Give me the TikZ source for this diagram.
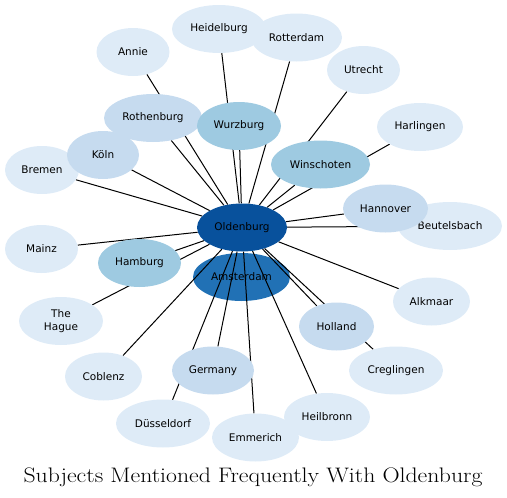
\documentclass[tikz,border=0pt]{standalone}
\usepackage{fontspec}
\newfontfamily\labfont{DejaVu Sans}
\usetikzlibrary{shapes.geometric}
\pgfdeclarelayer{amst}
\pgfdeclarelayer{edges}
\pgfsetlayers{amst,edges,main}
\definecolor{cA}{HTML}{DEEBF7}
\definecolor{cB}{HTML}{C6DBEF}
\definecolor{cC}{HTML}{9ECAE1}
\definecolor{cD}{HTML}{2171B5}
\definecolor{cE}{HTML}{08519C}
\begin{document}
\begin{tikzpicture}[x=1pt,y=-1pt,
  ent/.style={ellipse,inner sep=0pt,minimum height=48pt,draw=none,
    font=\labfont\fontsize{10.5}{12.5}\selectfont,align=center},
  lA/.style={ent,fill=cA},
  lB/.style={ent,fill=cB},
  lC/.style={ent,fill=cC},
  lD/.style={ent,fill=cD},
  lE/.style={ent,fill=cE},
  link/.style={draw=black,line width=1pt}]
\useasboundingbox (0,0) rectangle (507,498);
\begin{pgfonlayer}{amst}
\node[lD,minimum width=97pt] (ams) at (241.5,277) {Amsterdam};
\end{pgfonlayer}
\node[lA,minimum width=73pt] (annie) at (133,52) {Annie};
\node[lA,minimum width=94pt] (heid) at (219,29) {Heidelburg};
\node[lA,minimum width=91pt] (rott) at (296.5,37.5) {Rotterdam};
\node[lA,minimum width=73pt] (utr) at (363.5,70) {Utrecht};
\node[lA,minimum width=86pt] (harl) at (420,127) {Harlingen};
\node[lB,minimum width=98pt] (roth) at (153,118) {Rothenburg};
\node[lC,minimum width=84pt] (wurz) at (239,126) {Wurzburg};
\node[lC,minimum width=99pt] (wins) at (320.5,164.5) {Winschoten};
\node[lA,minimum width=74pt] (brem) at (42,170) {Bremen};
\node[lB,minimum width=72pt] (koln) at (103,155) {Köln};
\node[lA,minimum width=104pt] (beut) at (450,226) {Beutelsbach};
\node[lB,minimum width=85pt] (hann) at (385.5,208.5) {Hannover};
\node[lA,minimum width=73pt] (mainz) at (41.5,249) {Mainz};
\node[lC,minimum width=83pt] (hamb) at (139.5,263) {Hamburg};
\node[lA,minimum width=77pt] (alk) at (431.5,301.5) {Alkmaar};
\node[lA,minimum width=84pt] (hague) at (61,321) {The\\Hague};
\node[lB,minimum width=75pt] (holl) at (336.5,326.5) {Holland};
\node[lA,minimum width=94pt] (creg) at (396,370.5) {Creglingen};
\node[lA,minimum width=77pt] (cobl) at (103.5,376.5) {Coblenz};
\node[lB,minimum width=82pt] (germ) at (213,370.5) {Germany};
\node[lA,minimum width=94pt] (duss) at (163,423.5) {Düsseldorf};
\node[lA,minimum width=86pt] (heil) at (327,417) {Heilbronn};
\node[lA,minimum width=87pt] (emm) at (255.5,437.5) {Emmerich};
\node[lE,minimum width=90pt] (old) at (242,227.5) {Oldenburg};
\begin{pgfonlayer}{edges}
\foreach \t in {annie,heid,rott,utr,harl,roth,wurz,wins,brem,koln,beut,hann,
  mainz,hamb,alk,hague,holl,creg,cobl,germ,duss,heil,emm}
  {\draw[link] (old) -- (\t);}
\end{pgfonlayer}
\node[font=\fontsize{21}{24}\selectfont,anchor=base,xscale=1.13,transform shape] (title) at (253,482)
  {Subjects Mentioned Frequently With Oldenburg};
\end{tikzpicture}
\end{document}
